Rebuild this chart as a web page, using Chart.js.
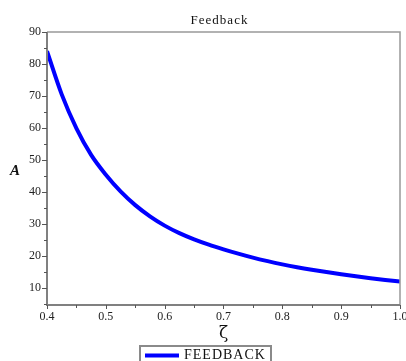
<!DOCTYPE html>
<html>
<head>
<meta charset="utf-8">
<script src="https://cdn.jsdelivr.net/npm/chart.js@4/dist/chart.umd.min.js"></script>
<style>
  html, body { margin: 0; padding: 0; background: #fff; }
  canvas { display: block; }
</style>
</head>
<body>
<canvas id="c" width="406" height="361"></canvas>
<script>
// ---- data ----
const chartTitle = 'Feedback';
const seriesLabel = 'FEEDBACK';
const xAxisLabel = 'ζ';
const yAxisLabel = 'A';
const zeta = [0.400, 0.425, 0.450, 0.475, 0.500, 0.525, 0.550, 0.575, 0.600, 0.625,
              0.650, 0.675, 0.700, 0.725, 0.750, 0.775, 0.800, 0.825, 0.850, 0.875,
              0.900, 0.925, 0.950, 0.975, 1.000];
const amplitude = [84.0, 70.5, 59.9, 51.6, 45.4, 40.2, 35.9, 32.4, 29.5, 27.15,
                   25.2, 23.55, 22.1, 20.75, 19.5, 18.4, 17.4, 16.5, 15.7, 14.98,
                   14.3, 13.66, 13.07, 12.52, 12.0];
const xTickValues = [0.4, 0.5, 0.6, 0.7, 0.8, 0.9, 1.0];
const xMinorTicks = [0.45, 0.55, 0.65, 0.75, 0.85, 0.95];
const yTickValues = [10, 20, 30, 40, 50, 60, 70, 80, 90];
const yMinorTicks = [5, 15, 25, 35, 45, 55, 65, 75, 85];
const xRange = [0.4, 1.0];
const yRange = [4.7, 90];

const SERIF = '"Liberation Serif", "Times New Roman", serif';

const decor = {
  id: 'decor',
  afterDraw(chart) {
    const ctx = chart.ctx;
    const a = chart.chartArea;
    const xs = chart.scales.x, ys = chart.scales.y;
    ctx.save();
    // frame top/right
    ctx.strokeStyle = '#999';
    ctx.lineWidth = 1.5;
    ctx.beginPath();
    ctx.moveTo(a.left, a.top); ctx.lineTo(a.right, a.top); ctx.lineTo(a.right, a.bottom);
    ctx.stroke();
    // axes left/bottom
    ctx.strokeStyle = '#808080';
    ctx.lineWidth = 2;
    ctx.beginPath();
    ctx.moveTo(a.left, a.top); ctx.lineTo(a.left, a.bottom); ctx.lineTo(a.right, a.bottom);
    ctx.stroke();
    // ticks
    ctx.strokeStyle = '#555';
    ctx.lineWidth = 1;
    ctx.beginPath();
    yTickValues.forEach(v => { const p = Math.round(ys.getPixelForValue(v)) + 0.5; ctx.moveTo(a.left - 5, p); ctx.lineTo(a.left, p); });
    yMinorTicks.forEach(v => { const p = Math.round(ys.getPixelForValue(v)) + 0.5; ctx.moveTo(a.left - 3, p); ctx.lineTo(a.left, p); });
    xTickValues.forEach(v => { const p = Math.round(xs.getPixelForValue(v)) + 0.5; ctx.moveTo(p, a.bottom); ctx.lineTo(p, a.bottom + 4); });
    xMinorTicks.forEach(v => { const p = Math.round(xs.getPixelForValue(v)) + 0.5; ctx.moveTo(p, a.bottom); ctx.lineTo(p, a.bottom + 3); });
    ctx.stroke();

    const cx = (a.left + a.right) / 2;
    ctx.fillStyle = '#111';
    // title
    ctx.letterSpacing = '1px';
    ctx.font = '13px ' + SERIF;
    ctx.textAlign = 'center';
    ctx.textBaseline = 'alphabetic';
    ctx.fillText(chartTitle, cx - 4, 24);
    // y label
    ctx.letterSpacing = '0px';
    ctx.font = 'italic bold 15px ' + SERIF;
    ctx.fillText(yAxisLabel, 15, 175);
    // x label
    ctx.font = '17px "DejaVu Serif", serif';
    ctx.fillText(xAxisLabel, cx, 338);
    // legend
    const ds = chart.data.datasets[0];
    ctx.strokeStyle = '#8a8a8a';
    ctx.lineWidth = 2;
    ctx.strokeRect(140, 346, 131, 30);
    ctx.strokeStyle = ds.borderColor;
    ctx.lineWidth = 4;
    ctx.beginPath();
    ctx.moveTo(145, 355.5); ctx.lineTo(179, 355.5);
    ctx.stroke();
    ctx.letterSpacing = '1px';
    ctx.font = '14px ' + SERIF;
    ctx.textAlign = 'left';
    ctx.fillStyle = '#111';
    ctx.fillText(ds.label, 184, 359);
    ctx.restore();
  }
};

new Chart(document.getElementById('c'), {
  type: 'line',
  data: {
    datasets: [{
      label: seriesLabel,
      data: zeta.map((z, i) => ({ x: z, y: amplitude[i] })),
      borderColor: '#0000ff',
      borderWidth: 4,
      pointRadius: 0,
      cubicInterpolationMode: 'monotone',
      fill: false
    }]
  },
  options: {
    responsive: false,
    devicePixelRatio: 1,
    animation: false,
    events: [],
    layout: { padding: { left: 0, right: 6, top: 32, bottom: 0 } },
    plugins: {
      legend: { display: false },
      title: { display: false },
      tooltip: { enabled: false }
    },
    scales: {
      x: {
        type: 'linear',
        min: xRange[0], max: xRange[1],
        grid: { display: false, drawTicks: false },
        border: { display: false },
        ticks: {
          padding: 5,
          maxRotation: 0,
          color: '#222',
          font: { family: SERIF, size: 12 },
          callback: v => Number(v).toFixed(1)
        },
        afterBuildTicks: s => { s.ticks = xTickValues.map(v => ({ value: v })); },
        afterFit: s => { s.height = 56; s.paddingLeft = 0; s.paddingRight = 0; }
      },
      y: {
        type: 'linear',
        min: yRange[0], max: yRange[1],
        grid: { display: false, drawTicks: false },
        border: { display: false },
        ticks: {
          padding: 6,
          color: '#222',
          font: { family: SERIF, size: 12 },
          callback: v => String(v)
        },
        afterBuildTicks: s => { s.ticks = yTickValues.map(v => ({ value: v })); },
        afterFit: s => { s.width = 47; }
      }
    }
  },
  plugins: [decor]
});
</script>
</body>
</html>
